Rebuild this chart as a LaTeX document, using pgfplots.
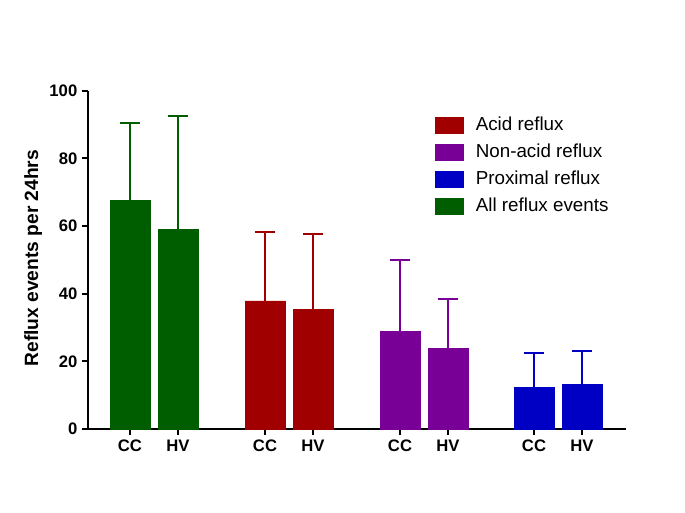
\documentclass[border=0pt]{standalone}
\usepackage{fontspec}
\setmainfont{Liberation Sans}
\usepackage{pgfplots}
\pgfplotsset{compat=1.18}
\definecolor{cgreen}{HTML}{005E00}
\definecolor{cred}{HTML}{A00000}
\definecolor{cpurple}{HTML}{780096}
\definecolor{cblue}{HTML}{0000C4}
\begin{document}
\begin{tikzpicture}
\path (0,0) rectangle (513.75pt,384.75pt);
\begin{axis}[
  at={(66pt,63pt)}, anchor=south west,
  scale only axis, width=403.5pt, height=253.7pt,
  xmin=88, xmax=626, ymin=0, ymax=100,
  axis x line*=bottom, axis y line*=left,
  axis line style={line width=1.5pt},
  tick align=outside, major tick length=4.5pt,
  tick style={line width=1.5pt, black},
  ytick={0,20,40,60,80,100},
  xtick={130,178,265,313,400,448,534,582},
  xticklabels={CC,HV,CC,HV,CC,HV,CC,HV},
  /pgf/number format/assume math mode=true,
  ticklabel style={font=\fontsize{12.5}{14}\selectfont\bfseries},
  ylabel={Reflux events per 24hrs},
  ylabel style={font=\fontsize{14.4}{16}\selectfont\bfseries, at={(axis description cs:-0.102,0.505)}, anchor=center},
  legend style={draw=none, fill=none, at={(axis cs:435,92.6)}, anchor=north west, inner sep=0pt,
    font=\fontsize{14.1}{16}\selectfont, row sep=6.9pt,
    nodes={inner sep=0pt, text height=10.5pt, text depth=3pt},
    /tikz/every odd column/.append style={column sep=9pt}},
  legend cell align=left,
  clip=false,
]
\addlegendimage{legend image code/.code={\fill[cred] (0pt,-6pt) rectangle (21pt,6pt);}}
\addlegendentry{Acid reflux}
\addlegendimage{legend image code/.code={\fill[cpurple] (0pt,-6pt) rectangle (21pt,6pt);}}
\addlegendentry{Non-acid reflux}
\addlegendimage{legend image code/.code={\fill[cblue] (0pt,-6pt) rectangle (21pt,6pt);}}
\addlegendentry{Proximal reflux}
\addlegendimage{legend image code/.code={\fill[cgreen] (0pt,-6pt) rectangle (21pt,6pt);}}
\addlegendentry{All reflux events}

\addplot[forget plot, ybar, bar width=40, bar shift=0pt, fill=cgreen, draw=cgreen,
  error bars/.cd, y dir=plus, y explicit,
  error bar style={line width=1.5pt, cgreen},
  error mark options={rotate=90, mark size=7.5pt, line width=1.5pt, cgreen}]
  table[x=x, y=y, y error=e] {
x y e
130 67.5 23.1
178 59.0 33.5
};
\addplot[forget plot, ybar, bar width=40, bar shift=0pt, fill=cred, draw=cred,
  error bars/.cd, y dir=plus, y explicit,
  error bar style={line width=1.5pt, cred},
  error mark options={rotate=90, mark size=7.5pt, line width=1.5pt, cred}]
  table[x=x, y=y, y error=e] {
x y e
265 37.9 20.2
313 35.3 22.4
};
\addplot[forget plot, ybar, bar width=40, bar shift=0pt, fill=cpurple, draw=cpurple,
  error bars/.cd, y dir=plus, y explicit,
  error bar style={line width=1.5pt, cpurple},
  error mark options={rotate=90, mark size=7.5pt, line width=1.5pt, cpurple}]
  table[x=x, y=y, y error=e] {
x y e
400 28.8 21.1
448 23.9 14.6
};
\addplot[forget plot, ybar, bar width=40, bar shift=0pt, fill=cblue, draw=cblue,
  error bars/.cd, y dir=plus, y explicit,
  error bar style={line width=1.5pt, cblue},
  error mark options={rotate=90, mark size=7.5pt, line width=1.5pt, cblue}]
  table[x=x, y=y, y error=e] {
x y e
534 12.3 10.3
582 13.2 9.8
};
\end{axis}
\end{tikzpicture}
\end{document}
